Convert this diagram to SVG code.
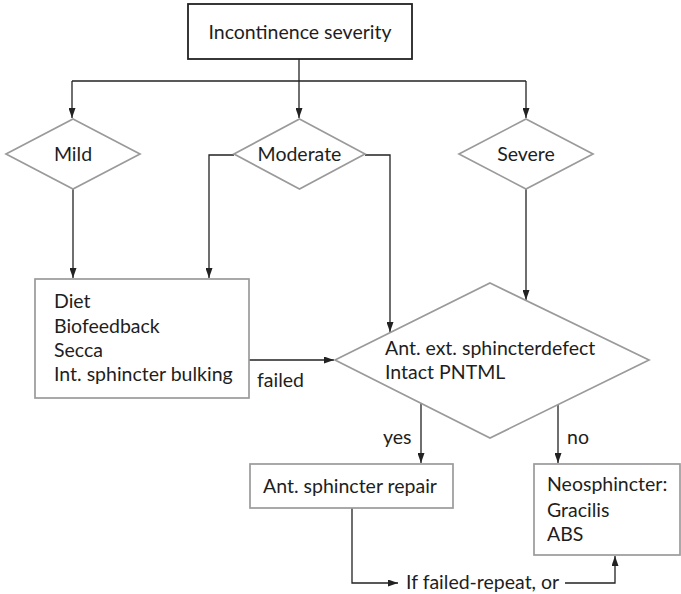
<svg xmlns="http://www.w3.org/2000/svg" width="681" height="594" viewBox="0 0 681 594">
  <style>
    .lbl { font-family: Lato, "Liberation Sans", sans-serif; font-size: 19.5px; fill: #1e1e1e; }
    .mid { text-anchor: middle; }
    .shape { fill: #fff; stroke: #9a9a9a; stroke-width: 1.7; }
    .top { fill: #fff; stroke: #222; stroke-width: 1.8; }
    .wire { fill: none; stroke: #222; stroke-width: 1.3; }
  </style>
  <defs>
    <marker id="arrow" viewBox="0 0 10 7" refX="10" refY="3.5" markerWidth="10" markerHeight="7" markerUnits="userSpaceOnUse" orient="auto">
      <path d="M0,0 L10,3.5 L0,7 z" fill="#222"/>
    </marker>
  </defs>
  <rect width="681" height="594" fill="#fff"/>

  <g id="connectors">
    <path class="wire" d="M299,59 V81"/>
    <path class="wire" d="M72,81 H526"/>
    <path class="wire" d="M72,81 V118" marker-end="url(#arrow)"/>
    <path class="wire" d="M299,81 V118" marker-end="url(#arrow)"/>
    <path class="wire" d="M526,81 V118" marker-end="url(#arrow)"/>
    <path class="wire" d="M73,189 V278" marker-end="url(#arrow)"/>
    <path class="wire" d="M234,155 H209 V278" marker-end="url(#arrow)"/>
    <path class="wire" d="M365,155 H390 V332" marker-end="url(#arrow)"/>
    <path class="wire" d="M526,189 V300" marker-end="url(#arrow)"/>
    <path class="wire" d="M249,360 H334" marker-end="url(#arrow)"/>
    <path class="wire" d="M421,403 V463" marker-end="url(#arrow)"/>
    <path class="wire" d="M558,405 V463" marker-end="url(#arrow)"/>
    <path class="wire" d="M352,508 V583 H398" marker-end="url(#arrow)"/>
    <path class="wire" d="M565,583 H615 V556" marker-end="url(#arrow)"/>
    <text class="lbl" x="257" y="387">failed</text>
    <text class="lbl" x="383" y="444">yes</text>
    <text class="lbl" x="567" y="444">no</text>
    <text class="lbl" x="406" y="589">If failed-repeat, or</text>
  </g>

  <g id="severity">
    <rect class="top" x="188" y="4" width="224" height="55"/>
    <text class="lbl mid" x="300" y="39">Incontinence severity</text>
  </g>

  <g id="mild">
    <polygon class="shape" points="73,119 140,154 73,189 6,154"/>
    <text class="lbl mid" x="73" y="161">Mild</text>
  </g>

  <g id="moderate">
    <polygon class="shape" points="299.5,119 365,154 299.5,189 234,154"/>
    <text class="lbl mid" x="299.5" y="161">Moderate</text>
  </g>

  <g id="severe">
    <polygon class="shape" points="526,119 593,154 526,189 459,154"/>
    <text class="lbl mid" x="526" y="161">Severe</text>
  </g>

  <g id="conservative">
    <rect class="shape" x="35" y="279" width="214" height="119"/>
    <text class="lbl" x="54" y="308">Diet</text>
    <text class="lbl" x="54" y="333">Biofeedback</text>
    <text class="lbl" x="54" y="357">Secca</text>
    <text class="lbl" x="54" y="381">Int. sphincter bulking</text>
  </g>

  <g id="defect">
    <polygon class="shape" points="490,283 649,360 490,438 335,360"/>
    <text class="lbl" x="385" y="355">Ant. ext. sphincterdefect</text>
    <text class="lbl" x="385" y="379">Intact PNTML</text>
  </g>

  <g id="repair">
    <rect class="shape" x="250" y="464" width="203" height="44"/>
    <text class="lbl mid" x="350" y="493">Ant. sphincter repair</text>
  </g>

  <g id="neosphincter">
    <rect class="shape" x="534" y="464" width="146" height="91"/>
    <text class="lbl" x="547" y="491">Neosphincter:</text>
    <text class="lbl" x="547" y="517">Gracilis</text>
    <text class="lbl" x="547" y="541">ABS</text>
  </g>
</svg>
